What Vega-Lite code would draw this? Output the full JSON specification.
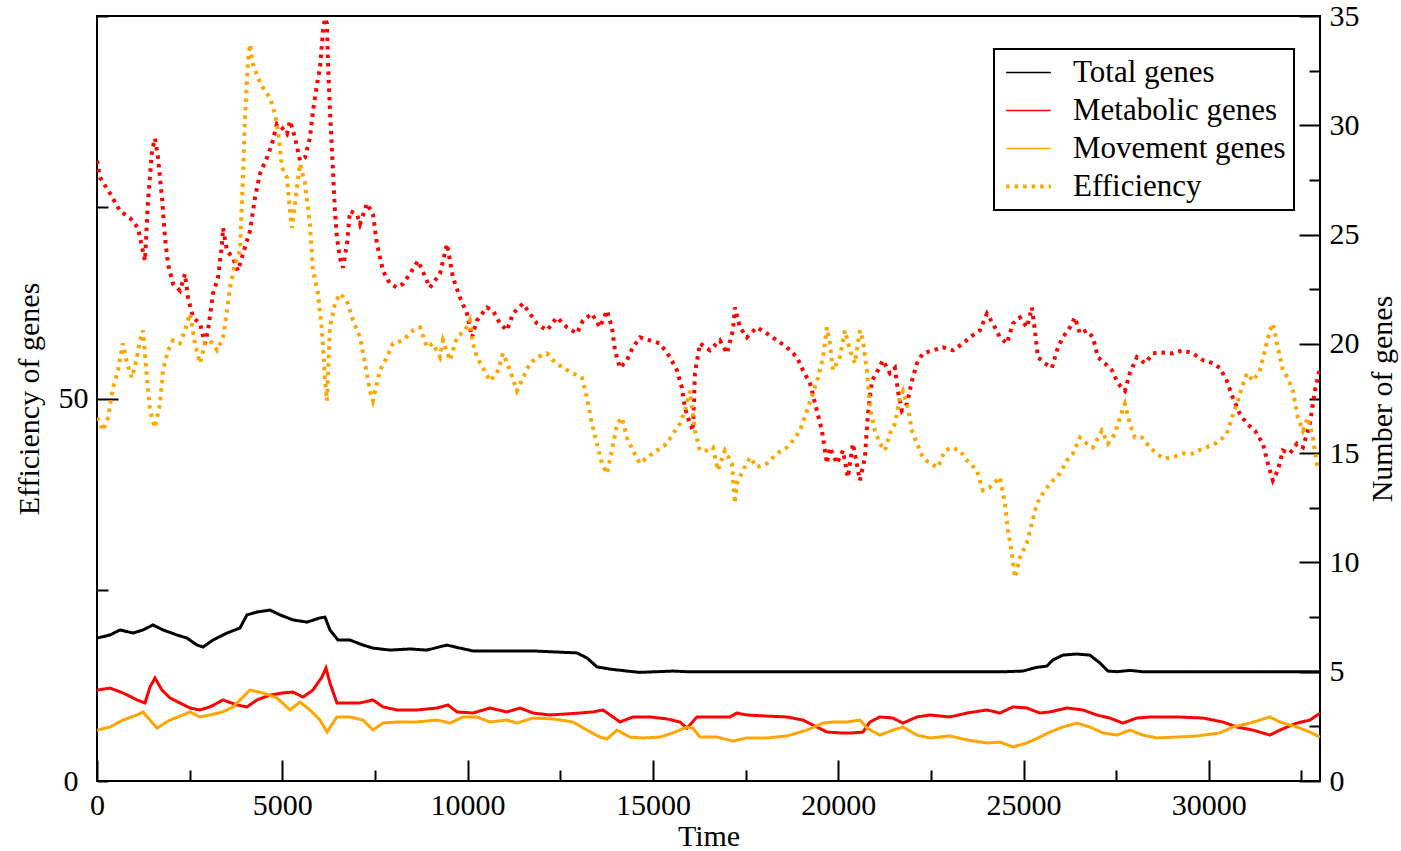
{
  "$schema": "https://vega.github.io/schema/vega-lite/v6.json",
  "width": 1223,
  "height": 765,
  "autosize": {"type": "none"},
  "padding": {"left": 97, "top": 16, "right": 81, "bottom": 70},
  "background": "white",
  "config": {
    "font": "Liberation Serif",
    "view": {"stroke": "black", "strokeWidth": 2},
    "axis": {
      "grid": false,
      "domain": false,
      "tickColor": "black",
      "tickWidth": 2,
      "labelFont": "Liberation Serif",
      "labelFontSize": 30,
      "labelColor": "black",
      "titleFont": "Liberation Serif",
      "titleFontSize": 30,
      "titleFontWeight": "normal",
      "titleColor": "black"
    }
  },
  "data": {
    "values": [
      {"s":"em","t":0,"v":81.1},{"s":"em","t":81,"v":78.9},{"s":"em","t":351,"v":76.8},{"s":"em","t":621,"v":74.5},{"s":"em","t":890,"v":73.6},{"s":"em","t":1106,"v":72.3},{"s":"em","t":1295,"v":68},{"s":"em","t":1376,"v":75.8},{"s":"em","t":1484,"v":82.4},{"s":"em","t":1565,"v":84},{"s":"em","t":1646,"v":81.5},{"s":"em","t":1754,"v":76.2},{"s":"em","t":1835,"v":71},{"s":"em","t":1916,"v":67.6},{"s":"em","t":2050,"v":65},{"s":"em","t":2239,"v":64.1},{"s":"em","t":2374,"v":66.3},{"s":"em","t":2455,"v":63.2},{"s":"em","t":2590,"v":60.6},{"s":"em","t":2779,"v":59.8},{"s":"em","t":2914,"v":57.2},{"s":"em","t":2995,"v":58.9},{"s":"em","t":3130,"v":63.7},{"s":"em","t":3265,"v":65.8},{"s":"em","t":3373,"v":70.2},{"s":"em","t":3400,"v":72.3},{"s":"em","t":3507,"v":69.3},{"s":"em","t":3669,"v":68.4},{"s":"em","t":3804,"v":66.7},{"s":"em","t":3939,"v":68.9},{"s":"em","t":4128,"v":71.9},{"s":"em","t":4263,"v":76.2},{"s":"em","t":4398,"v":79.4},{"s":"em","t":4587,"v":81.5},{"s":"em","t":4722,"v":83.3},{"s":"em","t":4856,"v":85.9},{"s":"em","t":4991,"v":85.4},{"s":"em","t":5126,"v":84.6},{"s":"em","t":5207,"v":86.3},{"s":"em","t":5342,"v":84.1},{"s":"em","t":5477,"v":81.1},{"s":"em","t":5612,"v":81.5},{"s":"em","t":5747,"v":84.1},{"s":"em","t":5828,"v":87.6},{"s":"em","t":5936,"v":91.1},{"s":"em","t":6017,"v":93.2},{"s":"em","t":6097,"v":98},{"s":"em","t":6151,"v":99.7},{"s":"em","t":6205,"v":99},{"s":"em","t":6232,"v":94},{"s":"em","t":6286,"v":87.6},{"s":"em","t":6340,"v":82.4},{"s":"em","t":6421,"v":74.5},{"s":"em","t":6475,"v":71},{"s":"em","t":6556,"v":68.4},{"s":"em","t":6637,"v":67.1},{"s":"em","t":6745,"v":70.2},{"s":"em","t":6826,"v":74.5},{"s":"em","t":7015,"v":74.1},{"s":"em","t":7096,"v":72.8},{"s":"em","t":7285,"v":75.5},{"s":"em","t":7446,"v":74.1},{"s":"em","t":7554,"v":70.2},{"s":"em","t":7716,"v":66.7},{"s":"em","t":7905,"v":65},{"s":"em","t":8094,"v":64.5},{"s":"em","t":8256,"v":65},{"s":"em","t":8445,"v":66.3},{"s":"em","t":8661,"v":68},{"s":"em","t":8984,"v":64.5},{"s":"em","t":9254,"v":66.3},{"s":"em","t":9443,"v":70.2},{"s":"em","t":9605,"v":65.8},{"s":"em","t":9794,"v":63.2},{"s":"em","t":9983,"v":61.1},{"s":"em","t":10118,"v":58},{"s":"em","t":10252,"v":60.2},{"s":"em","t":10522,"v":61.9},{"s":"em","t":10684,"v":61.5},{"s":"em","t":10873,"v":59.8},{"s":"em","t":11062,"v":58.9},{"s":"em","t":11224,"v":61.1},{"s":"em","t":11493,"v":62.4},{"s":"em","t":11682,"v":61.1},{"s":"em","t":11871,"v":59.8},{"s":"em","t":12141,"v":58.9},{"s":"em","t":12411,"v":60.6},{"s":"em","t":12681,"v":59.3},{"s":"em","t":12950,"v":58.5},{"s":"em","t":13112,"v":60.2},{"s":"em","t":13355,"v":61.1},{"s":"em","t":13571,"v":59.3},{"s":"em","t":13760,"v":61.5},{"s":"em","t":13895,"v":59.3},{"s":"em","t":13976,"v":56.3},{"s":"em","t":14111,"v":54},{"s":"em","t":14299,"v":55},{"s":"em","t":14461,"v":56.7},{"s":"em","t":14650,"v":58},{"s":"em","t":14920,"v":57.6},{"s":"em","t":15190,"v":57.2},{"s":"em","t":15460,"v":55.4},{"s":"em","t":15648,"v":53.7},{"s":"em","t":15783,"v":51.4},{"s":"em","t":15864,"v":48.8},{"s":"em","t":15999,"v":46.7},{"s":"em","t":16080,"v":45.8},{"s":"em","t":16134,"v":53.3},{"s":"em","t":16269,"v":57.2},{"s":"em","t":16539,"v":56.3},{"s":"em","t":16809,"v":57.6},{"s":"em","t":16997,"v":55.9},{"s":"em","t":17159,"v":58.9},{"s":"em","t":17213,"v":61.9},{"s":"em","t":17348,"v":59.3},{"s":"em","t":17537,"v":58},{"s":"em","t":17807,"v":59.3},{"s":"em","t":18077,"v":58.5},{"s":"em","t":18346,"v":57.6},{"s":"em","t":18616,"v":56.7},{"s":"em","t":18886,"v":55.4},{"s":"em","t":19048,"v":53.7},{"s":"em","t":19237,"v":52},{"s":"em","t":19426,"v":48.4},{"s":"em","t":19561,"v":45.8},{"s":"em","t":19695,"v":41.5},{"s":"em","t":19776,"v":43.6},{"s":"em","t":19965,"v":41.5},{"s":"em","t":20127,"v":43.2},{"s":"em","t":20262,"v":39.7},{"s":"em","t":20397,"v":44.1},{"s":"em","t":20586,"v":39.3},{"s":"em","t":20721,"v":42.3},{"s":"em","t":20802,"v":48},{"s":"em","t":20910,"v":52.3},{"s":"em","t":21071,"v":53.7},{"s":"em","t":21206,"v":55},{"s":"em","t":21395,"v":53.3},{"s":"em","t":21530,"v":54},{"s":"em","t":21611,"v":51},{"s":"em","t":21719,"v":48.4},{"s":"em","t":21854,"v":49.3},{"s":"em","t":21989,"v":52.3},{"s":"em","t":22124,"v":54.6},{"s":"em","t":22285,"v":55.9},{"s":"em","t":22555,"v":56.3},{"s":"em","t":22825,"v":56.7},{"s":"em","t":23095,"v":56.3},{"s":"em","t":23365,"v":57.2},{"s":"em","t":23554,"v":58},{"s":"em","t":23823,"v":58.9},{"s":"em","t":24012,"v":61.1},{"s":"em","t":24174,"v":59.8},{"s":"em","t":24363,"v":58},{"s":"em","t":24552,"v":57.2},{"s":"em","t":24714,"v":59.8},{"s":"em","t":24903,"v":60.6},{"s":"em","t":25091,"v":59.3},{"s":"em","t":25226,"v":61.9},{"s":"em","t":25307,"v":58.9},{"s":"em","t":25388,"v":55.4},{"s":"em","t":25577,"v":54.6},{"s":"em","t":25766,"v":54},{"s":"em","t":25928,"v":56.7},{"s":"em","t":26063,"v":58},{"s":"em","t":26252,"v":59.3},{"s":"em","t":26387,"v":60.6},{"s":"em","t":26521,"v":58.5},{"s":"em","t":26710,"v":58.9},{"s":"em","t":26872,"v":58},{"s":"em","t":27007,"v":55.4},{"s":"em","t":27196,"v":54.6},{"s":"em","t":27385,"v":53.7},{"s":"em","t":27547,"v":52},{"s":"em","t":27735,"v":51},{"s":"em","t":27870,"v":53.3},{"s":"em","t":28059,"v":55.4},{"s":"em","t":28275,"v":54.6},{"s":"em","t":28491,"v":55.9},{"s":"em","t":28761,"v":56},{"s":"em","t":29030,"v":55.9},{"s":"em","t":29300,"v":56.3},{"s":"em","t":29570,"v":55.9},{"s":"em","t":29840,"v":55},{"s":"em","t":30110,"v":54.6},{"s":"em","t":30299,"v":54},{"s":"em","t":30487,"v":52.3},{"s":"em","t":30649,"v":50.1},{"s":"em","t":30838,"v":48},{"s":"em","t":31027,"v":46.7},{"s":"em","t":31243,"v":45.8},{"s":"em","t":31459,"v":44.1},{"s":"em","t":31594,"v":41.5},{"s":"em","t":31728,"v":39.3},{"s":"em","t":31863,"v":40.6},{"s":"em","t":31998,"v":43.2},{"s":"em","t":32187,"v":42.8},{"s":"em","t":32376,"v":44.1},{"s":"em","t":32538,"v":43.6},{"s":"em","t":32727,"v":46.7},{"s":"em","t":32862,"v":51},{"s":"em","t":33000,"v":54},

      {"s":"ev","t":0,"v":47.5},{"s":"ev","t":162,"v":45.8},{"s":"ev","t":297,"v":47.5},{"s":"ev","t":432,"v":51.4},{"s":"ev","t":567,"v":53.7},{"s":"ev","t":701,"v":57.2},{"s":"ev","t":809,"v":54.6},{"s":"ev","t":944,"v":52.7},{"s":"ev","t":1079,"v":55.4},{"s":"ev","t":1160,"v":57.6},{"s":"ev","t":1241,"v":58.9},{"s":"ev","t":1349,"v":52.7},{"s":"ev","t":1430,"v":48.4},{"s":"ev","t":1565,"v":46.2},{"s":"ev","t":1700,"v":49.3},{"s":"ev","t":1781,"v":53.7},{"s":"ev","t":1916,"v":56.3},{"s":"ev","t":2050,"v":57.6},{"s":"ev","t":2239,"v":57.2},{"s":"ev","t":2374,"v":58.9},{"s":"ev","t":2509,"v":61.1},{"s":"ev","t":2644,"v":57.2},{"s":"ev","t":2779,"v":54.6},{"s":"ev","t":2914,"v":57.2},{"s":"ev","t":3049,"v":57.6},{"s":"ev","t":3238,"v":56.3},{"s":"ev","t":3400,"v":58},{"s":"ev","t":3507,"v":61.5},{"s":"ev","t":3588,"v":64.5},{"s":"ev","t":3723,"v":67.6},{"s":"ev","t":3858,"v":69.3},{"s":"ev","t":3939,"v":78.9},{"s":"ev","t":3993,"v":86.7},{"s":"ev","t":4074,"v":94.1},{"s":"ev","t":4128,"v":96.3},{"s":"ev","t":4209,"v":93.7},{"s":"ev","t":4344,"v":91.9},{"s":"ev","t":4479,"v":90.6},{"s":"ev","t":4668,"v":89.3},{"s":"ev","t":4802,"v":87.2},{"s":"ev","t":4883,"v":85},{"s":"ev","t":4991,"v":80.2},{"s":"ev","t":5126,"v":78.9},{"s":"ev","t":5207,"v":74.5},{"s":"ev","t":5261,"v":72.3},{"s":"ev","t":5342,"v":75.5},{"s":"ev","t":5477,"v":80.7},{"s":"ev","t":5612,"v":78.1},{"s":"ev","t":5747,"v":72.8},{"s":"ev","t":5828,"v":66.7},{"s":"ev","t":5963,"v":63.7},{"s":"ev","t":6071,"v":58.9},{"s":"ev","t":6151,"v":52.7},{"s":"ev","t":6205,"v":49.7},{"s":"ev","t":6286,"v":59.3},{"s":"ev","t":6421,"v":62.4},{"s":"ev","t":6556,"v":63.7},{"s":"ev","t":6745,"v":62.8},{"s":"ev","t":6907,"v":60.2},{"s":"ev","t":7096,"v":58},{"s":"ev","t":7231,"v":54.6},{"s":"ev","t":7366,"v":51},{"s":"ev","t":7446,"v":49.7},{"s":"ev","t":7635,"v":53.7},{"s":"ev","t":7824,"v":55.4},{"s":"ev","t":7986,"v":57.2},{"s":"ev","t":8256,"v":57.6},{"s":"ev","t":8526,"v":58.9},{"s":"ev","t":8715,"v":59.3},{"s":"ev","t":8903,"v":56.7},{"s":"ev","t":9065,"v":57.2},{"s":"ev","t":9254,"v":55.4},{"s":"ev","t":9335,"v":57.6},{"s":"ev","t":9524,"v":55},{"s":"ev","t":9713,"v":58},{"s":"ev","t":9929,"v":58.9},{"s":"ev","t":10063,"v":60.2},{"s":"ev","t":10144,"v":57.2},{"s":"ev","t":10252,"v":55.4},{"s":"ev","t":10414,"v":54},{"s":"ev","t":10603,"v":52.3},{"s":"ev","t":10792,"v":53.3},{"s":"ev","t":10954,"v":55.9},{"s":"ev","t":11143,"v":53.7},{"s":"ev","t":11332,"v":51},{"s":"ev","t":11493,"v":52.7},{"s":"ev","t":11682,"v":54.6},{"s":"ev","t":11871,"v":55.4},{"s":"ev","t":12141,"v":55.9},{"s":"ev","t":12303,"v":55},{"s":"ev","t":12573,"v":54},{"s":"ev","t":12842,"v":53.3},{"s":"ev","t":13085,"v":52.7},{"s":"ev","t":13220,"v":50.1},{"s":"ev","t":13355,"v":46.7},{"s":"ev","t":13490,"v":44.1},{"s":"ev","t":13625,"v":41.5},{"s":"ev","t":13760,"v":40.2},{"s":"ev","t":13895,"v":43.2},{"s":"ev","t":14030,"v":46.7},{"s":"ev","t":14164,"v":47.5},{"s":"ev","t":14299,"v":44.9},{"s":"ev","t":14461,"v":43.2},{"s":"ev","t":14650,"v":41.5},{"s":"ev","t":14839,"v":42.3},{"s":"ev","t":15109,"v":43.2},{"s":"ev","t":15379,"v":44.1},{"s":"ev","t":15540,"v":45.4},{"s":"ev","t":15729,"v":46.7},{"s":"ev","t":15864,"v":48.4},{"s":"ev","t":15999,"v":51},{"s":"ev","t":16134,"v":45.8},{"s":"ev","t":16269,"v":43.2},{"s":"ev","t":16458,"v":43.2},{"s":"ev","t":16620,"v":43.6},{"s":"ev","t":16755,"v":40.6},{"s":"ev","t":16943,"v":43.2},{"s":"ev","t":17132,"v":41.5},{"s":"ev","t":17213,"v":36.3},{"s":"ev","t":17267,"v":38.9},{"s":"ev","t":17429,"v":40.6},{"s":"ev","t":17618,"v":42.3},{"s":"ev","t":17807,"v":41},{"s":"ev","t":18077,"v":41.5},{"s":"ev","t":18346,"v":42.8},{"s":"ev","t":18616,"v":43.6},{"s":"ev","t":18778,"v":44.5},{"s":"ev","t":18967,"v":45.8},{"s":"ev","t":19156,"v":48.4},{"s":"ev","t":19318,"v":50.7},{"s":"ev","t":19453,"v":52.7},{"s":"ev","t":19588,"v":55.4},{"s":"ev","t":19695,"v":59.3},{"s":"ev","t":19776,"v":57.2},{"s":"ev","t":19857,"v":53.7},{"s":"ev","t":20046,"v":55.4},{"s":"ev","t":20181,"v":58.9},{"s":"ev","t":20316,"v":56.3},{"s":"ev","t":20451,"v":54.6},{"s":"ev","t":20586,"v":58.9},{"s":"ev","t":20667,"v":57.6},{"s":"ev","t":20775,"v":53.7},{"s":"ev","t":20856,"v":48.8},{"s":"ev","t":20991,"v":45.8},{"s":"ev","t":21125,"v":44.1},{"s":"ev","t":21260,"v":43.2},{"s":"ev","t":21395,"v":45.4},{"s":"ev","t":21530,"v":46.7},{"s":"ev","t":21665,"v":50.1},{"s":"ev","t":21746,"v":51},{"s":"ev","t":21881,"v":48.8},{"s":"ev","t":21989,"v":45.8},{"s":"ev","t":22124,"v":44.1},{"s":"ev","t":22285,"v":42.3},{"s":"ev","t":22474,"v":41.5},{"s":"ev","t":22690,"v":41},{"s":"ev","t":22879,"v":43.2},{"s":"ev","t":23068,"v":43.6},{"s":"ev","t":23284,"v":43.2},{"s":"ev","t":23473,"v":41.9},{"s":"ev","t":23742,"v":40.6},{"s":"ev","t":23904,"v":38},{"s":"ev","t":24093,"v":38.4},{"s":"ev","t":24363,"v":39.7},{"s":"ev","t":24498,"v":36.3},{"s":"ev","t":24579,"v":32.8},{"s":"ev","t":24687,"v":29.8},{"s":"ev","t":24768,"v":26.6},{"s":"ev","t":24903,"v":29.2},{"s":"ev","t":25091,"v":31.1},{"s":"ev","t":25226,"v":33.7},{"s":"ev","t":25361,"v":36.3},{"s":"ev","t":25523,"v":37.6},{"s":"ev","t":25712,"v":38.9},{"s":"ev","t":25982,"v":40.2},{"s":"ev","t":26171,"v":41.9},{"s":"ev","t":26332,"v":42.8},{"s":"ev","t":26521,"v":44.9},{"s":"ev","t":26710,"v":44.1},{"s":"ev","t":26872,"v":43.6},{"s":"ev","t":27115,"v":45.8},{"s":"ev","t":27277,"v":44.1},{"s":"ev","t":27466,"v":45.4},{"s":"ev","t":27601,"v":47.5},{"s":"ev","t":27735,"v":49.3},{"s":"ev","t":27870,"v":46.7},{"s":"ev","t":28005,"v":44.9},{"s":"ev","t":28194,"v":44.9},{"s":"ev","t":28410,"v":43.6},{"s":"ev","t":28599,"v":42.8},{"s":"ev","t":28761,"v":42.2},{"s":"ev","t":29030,"v":42.3},{"s":"ev","t":29300,"v":42.8},{"s":"ev","t":29570,"v":42.8},{"s":"ev","t":29840,"v":43.5},{"s":"ev","t":30110,"v":43.9},{"s":"ev","t":30299,"v":44.5},{"s":"ev","t":30487,"v":45.4},{"s":"ev","t":30622,"v":47.5},{"s":"ev","t":30757,"v":49.3},{"s":"ev","t":30892,"v":51.4},{"s":"ev","t":31027,"v":53.3},{"s":"ev","t":31189,"v":52.3},{"s":"ev","t":31378,"v":53.7},{"s":"ev","t":31513,"v":56.3},{"s":"ev","t":31648,"v":58.9},{"s":"ev","t":31728,"v":59.8},{"s":"ev","t":31863,"v":56.7},{"s":"ev","t":31998,"v":53.7},{"s":"ev","t":32133,"v":52.7},{"s":"ev","t":32268,"v":51},{"s":"ev","t":32403,"v":47.5},{"s":"ev","t":32538,"v":45.8},{"s":"ev","t":32673,"v":47.5},{"s":"ev","t":32808,"v":44.9},{"s":"ev","t":32943,"v":40.6},

      {"s":"tot","t":0,"v":6.54},{"s":"tot","t":351,"v":6.68},{"s":"tot","t":621,"v":6.91},{"s":"tot","t":971,"v":6.77},{"s":"tot","t":1241,"v":6.91},{"s":"tot","t":1511,"v":7.14},{"s":"tot","t":1781,"v":6.91},{"s":"tot","t":2158,"v":6.68},{"s":"tot","t":2428,"v":6.54},{"s":"tot","t":2698,"v":6.22},{"s":"tot","t":2860,"v":6.13},{"s":"tot","t":3130,"v":6.45},{"s":"tot","t":3507,"v":6.77},{"s":"tot","t":3858,"v":7.0},{"s":"tot","t":4047,"v":7.6},{"s":"tot","t":4317,"v":7.73},{"s":"tot","t":4668,"v":7.82},{"s":"tot","t":4937,"v":7.6},{"s":"tot","t":5288,"v":7.37},{"s":"tot","t":5666,"v":7.27},{"s":"tot","t":6017,"v":7.46},{"s":"tot","t":6151,"v":7.5},{"s":"tot","t":6286,"v":6.91},{"s":"tot","t":6502,"v":6.45},{"s":"tot","t":6826,"v":6.45},{"s":"tot","t":7177,"v":6.22},{"s":"tot","t":7446,"v":6.08},{"s":"tot","t":7905,"v":5.99},{"s":"tot","t":8445,"v":6.04},{"s":"tot","t":8903,"v":5.99},{"s":"tot","t":9443,"v":6.22},{"s":"tot","t":9794,"v":6.08},{"s":"tot","t":10144,"v":5.95},{"s":"tot","t":10873,"v":5.95},{"s":"tot","t":11763,"v":5.95},{"s":"tot","t":12411,"v":5.9},{"s":"tot","t":12950,"v":5.86},{"s":"tot","t":13220,"v":5.63},{"s":"tot","t":13490,"v":5.22},{"s":"tot","t":13841,"v":5.12},{"s":"tot","t":14299,"v":5.03},{"s":"tot","t":14650,"v":4.97},{"s":"tot","t":15540,"v":5.03},{"s":"tot","t":15918,"v":5.0},{"s":"tot","t":17000,"v":5.0},{"s":"tot","t":19000,"v":5.0},{"s":"tot","t":21000,"v":5.0},{"s":"tot","t":23000,"v":5.0},{"s":"tot","t":24500,"v":5.0},{"s":"tot","t":24983,"v":5.03},{"s":"tot","t":25361,"v":5.2},{"s":"tot","t":25631,"v":5.26},{"s":"tot","t":25793,"v":5.54},{"s":"tot","t":26063,"v":5.76},{"s":"tot","t":26440,"v":5.81},{"s":"tot","t":26791,"v":5.76},{"s":"tot","t":27061,"v":5.4},{"s":"tot","t":27277,"v":5.03},{"s":"tot","t":27520,"v":5.0},{"s":"tot","t":27870,"v":5.06},{"s":"tot","t":28221,"v":5.0},{"s":"tot","t":30000,"v":5.0},{"s":"tot","t":33000,"v":5.0},

      {"s":"met","t":0,"v":4.16},{"s":"met","t":351,"v":4.25},{"s":"met","t":701,"v":4.03},{"s":"met","t":1079,"v":3.71},{"s":"met","t":1295,"v":3.57},{"s":"met","t":1430,"v":4.3},{"s":"met","t":1565,"v":4.71},{"s":"met","t":1754,"v":4.16},{"s":"met","t":1970,"v":3.8},{"s":"met","t":2239,"v":3.57},{"s":"met","t":2509,"v":3.34},{"s":"met","t":2779,"v":3.25},{"s":"met","t":3049,"v":3.39},{"s":"met","t":3400,"v":3.71},{"s":"met","t":3777,"v":3.48},{"s":"met","t":4047,"v":3.39},{"s":"met","t":4317,"v":3.71},{"s":"met","t":4668,"v":3.93},{"s":"met","t":5018,"v":4.03},{"s":"met","t":5288,"v":4.07},{"s":"met","t":5558,"v":3.84},{"s":"met","t":5828,"v":4.16},{"s":"met","t":6071,"v":4.76},{"s":"met","t":6178,"v":5.17},{"s":"met","t":6286,"v":4.48},{"s":"met","t":6475,"v":3.57},{"s":"met","t":6745,"v":3.57},{"s":"met","t":7096,"v":3.57},{"s":"met","t":7446,"v":3.71},{"s":"met","t":7716,"v":3.39},{"s":"met","t":8094,"v":3.25},{"s":"met","t":8634,"v":3.25},{"s":"met","t":9173,"v":3.34},{"s":"met","t":9470,"v":3.48},{"s":"met","t":9713,"v":3.16},{"s":"met","t":10144,"v":3.11},{"s":"met","t":10603,"v":3.34},{"s":"met","t":11062,"v":3.16},{"s":"met","t":11413,"v":3.34},{"s":"met","t":11763,"v":3.11},{"s":"met","t":12222,"v":3.02},{"s":"met","t":12681,"v":3.07},{"s":"met","t":13031,"v":3.11},{"s":"met","t":13382,"v":3.16},{"s":"met","t":13652,"v":3.25},{"s":"met","t":13922,"v":2.93},{"s":"met","t":14111,"v":2.7},{"s":"met","t":14461,"v":2.93},{"s":"met","t":14920,"v":2.93},{"s":"met","t":15379,"v":2.84},{"s":"met","t":15729,"v":2.7},{"s":"met","t":15918,"v":2.42},{"s":"met","t":16188,"v":2.93},{"s":"met","t":16728,"v":2.93},{"s":"met","t":17078,"v":2.93},{"s":"met","t":17267,"v":3.11},{"s":"met","t":17537,"v":3.02},{"s":"met","t":18077,"v":2.97},{"s":"met","t":18616,"v":2.93},{"s":"met","t":19048,"v":2.79},{"s":"met","t":19426,"v":2.47},{"s":"met","t":19695,"v":2.24},{"s":"met","t":20046,"v":2.2},{"s":"met","t":20397,"v":2.2},{"s":"met","t":20667,"v":2.24},{"s":"met","t":20856,"v":2.7},{"s":"met","t":21125,"v":2.93},{"s":"met","t":21476,"v":2.88},{"s":"met","t":21746,"v":2.65},{"s":"met","t":22124,"v":2.93},{"s":"met","t":22474,"v":3.02},{"s":"met","t":23014,"v":2.93},{"s":"met","t":23473,"v":3.11},{"s":"met","t":24012,"v":3.25},{"s":"met","t":24363,"v":3.11},{"s":"met","t":24714,"v":3.39},{"s":"met","t":25091,"v":3.34},{"s":"met","t":25442,"v":3.11},{"s":"met","t":25712,"v":3.16},{"s":"met","t":26171,"v":3.34},{"s":"met","t":26602,"v":3.25},{"s":"met","t":26980,"v":3.02},{"s":"met","t":27331,"v":2.88},{"s":"met","t":27682,"v":2.65},{"s":"met","t":28059,"v":2.88},{"s":"met","t":28410,"v":2.93},{"s":"met","t":29138,"v":2.93},{"s":"met","t":29840,"v":2.88},{"s":"met","t":30379,"v":2.7},{"s":"met","t":30757,"v":2.47},{"s":"met","t":31189,"v":2.33},{"s":"met","t":31648,"v":2.1},{"s":"met","t":31917,"v":2.33},{"s":"met","t":32376,"v":2.65},{"s":"met","t":32727,"v":2.79},{"s":"met","t":33000,"v":3.1},

      {"s":"mov","t":0,"v":2.33},{"s":"mov","t":351,"v":2.47},{"s":"mov","t":701,"v":2.79},{"s":"mov","t":1079,"v":3.02},{"s":"mov","t":1241,"v":3.16},{"s":"mov","t":1430,"v":2.79},{"s":"mov","t":1619,"v":2.42},{"s":"mov","t":1970,"v":2.79},{"s":"mov","t":2320,"v":3.02},{"s":"mov","t":2509,"v":3.16},{"s":"mov","t":2779,"v":2.93},{"s":"mov","t":3049,"v":3.02},{"s":"mov","t":3400,"v":3.16},{"s":"mov","t":3669,"v":3.39},{"s":"mov","t":3939,"v":3.84},{"s":"mov","t":4128,"v":4.16},{"s":"mov","t":4479,"v":4.03},{"s":"mov","t":4856,"v":3.8},{"s":"mov","t":5207,"v":3.25},{"s":"mov","t":5477,"v":3.61},{"s":"mov","t":5747,"v":3.25},{"s":"mov","t":6017,"v":2.79},{"s":"mov","t":6205,"v":2.24},{"s":"mov","t":6475,"v":2.93},{"s":"mov","t":6826,"v":2.93},{"s":"mov","t":7177,"v":2.79},{"s":"mov","t":7446,"v":2.33},{"s":"mov","t":7716,"v":2.65},{"s":"mov","t":8094,"v":2.7},{"s":"mov","t":8634,"v":2.7},{"s":"mov","t":9173,"v":2.79},{"s":"mov","t":9524,"v":2.65},{"s":"mov","t":9875,"v":2.93},{"s":"mov","t":10252,"v":2.93},{"s":"mov","t":10603,"v":2.7},{"s":"mov","t":11062,"v":2.79},{"s":"mov","t":11332,"v":2.65},{"s":"mov","t":11763,"v":2.88},{"s":"mov","t":12303,"v":2.84},{"s":"mov","t":12842,"v":2.7},{"s":"mov","t":13220,"v":2.33},{"s":"mov","t":13571,"v":2.01},{"s":"mov","t":13760,"v":1.92},{"s":"mov","t":14030,"v":2.33},{"s":"mov","t":14381,"v":2.01},{"s":"mov","t":14731,"v":1.97},{"s":"mov","t":15190,"v":2.01},{"s":"mov","t":15540,"v":2.2},{"s":"mov","t":15918,"v":2.47},{"s":"mov","t":16080,"v":2.42},{"s":"mov","t":16269,"v":2.01},{"s":"mov","t":16728,"v":2.01},{"s":"mov","t":17159,"v":1.83},{"s":"mov","t":17537,"v":1.97},{"s":"mov","t":18077,"v":1.97},{"s":"mov","t":18616,"v":2.06},{"s":"mov","t":19156,"v":2.33},{"s":"mov","t":19588,"v":2.65},{"s":"mov","t":19857,"v":2.7},{"s":"mov","t":20235,"v":2.7},{"s":"mov","t":20586,"v":2.79},{"s":"mov","t":20775,"v":2.42},{"s":"mov","t":21125,"v":2.1},{"s":"mov","t":21476,"v":2.33},{"s":"mov","t":21746,"v":2.47},{"s":"mov","t":22124,"v":2.1},{"s":"mov","t":22474,"v":1.97},{"s":"mov","t":23014,"v":2.06},{"s":"mov","t":23473,"v":1.88},{"s":"mov","t":24012,"v":1.74},{"s":"mov","t":24363,"v":1.78},{"s":"mov","t":24714,"v":1.56},{"s":"mov","t":25091,"v":1.74},{"s":"mov","t":25442,"v":2.01},{"s":"mov","t":25712,"v":2.24},{"s":"mov","t":26063,"v":2.47},{"s":"mov","t":26440,"v":2.65},{"s":"mov","t":26791,"v":2.47},{"s":"mov","t":27142,"v":2.2},{"s":"mov","t":27520,"v":2.1},{"s":"mov","t":27870,"v":2.33},{"s":"mov","t":28221,"v":2.1},{"s":"mov","t":28599,"v":1.97},{"s":"mov","t":29138,"v":2.01},{"s":"mov","t":29678,"v":2.06},{"s":"mov","t":30299,"v":2.2},{"s":"mov","t":30649,"v":2.47},{"s":"mov","t":31108,"v":2.65},{"s":"mov","t":31648,"v":2.93},{"s":"mov","t":31917,"v":2.7},{"s":"mov","t":32376,"v":2.47},{"s":"mov","t":32727,"v":2.24},{"s":"mov","t":33000,"v":2.01}
    ]
  },
  "encoding": {
    "x": {
      "field": "t",
      "type": "quantitative",
      "scale": {"domain": [0, 33000], "nice": false, "zero": false},
      "axis": {
        "title": "Time",
        "orient": "bottom",
        "values": [0, 2500, 5000, 7500, 10000, 12500, 15000, 17500, 20000, 22500, 25000, 27500, 30000, 32500],
        "format": "d",
        "labelExpr": "datum.value % 5000 === 0 ? datum.label : ''",
        "tickSize": {"condition": {"test": "datum.value % 5000 === 0", "value": -21}, "value": -11},
        "labelPadding": 30,
        "labelFlush": false,
        "titlePadding": 1
      }
    }
  },
  "layer": [
    {
      "encoding": {
        "y": {
          "field": "v",
          "type": "quantitative",
          "scale": {"domain": [0, 100], "nice": false, "zero": false},
          "axis": {
            "title": "Efficiency of genes",
            "orient": "left",
            "values": [0, 25, 50, 75, 100],
            "labelExpr": "datum.value === 0 || datum.value === 50 ? datum.label : ''",
            "tickSize": {"condition": {"test": "datum.value === 50", "value": -21}, "value": -11},
            "labelPadding": 30,
            "labelFlush": false,
            "titlePadding": 14
          }
        }
      },
      "layer": [
        {
          "transform": [{"filter": "datum.s === 'em'"}],
          "mark": {"type": "line", "color": "red", "strokeWidth": 4, "strokeDash": [3.5, 5], "clip": true},
          "encoding": {}
        },
        {
          "transform": [{"filter": "datum.s === 'ev'"}],
          "mark": {"type": "line", "strokeWidth": 4, "clip": true},
          "encoding": {
            "color": {
              "field": "s",
              "type": "nominal",
              "scale": {"domain": ["tot", "met", "mov", "ev"], "range": ["black", "red", "orange", "orange"]},
              "legend": {
                "title": null,
                "orient": "none",
                "legendX": 897,
                "legendY": 33,
                "strokeColor": "black",
                "fillColor": "white",
                "padding": 8,
                "labelFont": "Liberation Serif",
                "labelFontSize": 31,
                "labelColor": "black",
                "labelLimit": 400,
                "labelOffset": 29,
                "symbolOffset": 11,
                "rowPadding": 6,
                "symbolType": "stroke",
                "symbolSize": 2000,
                "labelExpr": "datum.value === 'tot' ? 'Total genes' : datum.value === 'met' ? 'Metabolic genes' : datum.value === 'mov' ? 'Movement genes' : 'Efficiency'",
                "encode": {
                  "legend": {"update": {"strokeWidth": {"value": 2}}},
                  "symbols": {"update": {"strokeWidth": {"signal": "datum.value === 'ev' ? 4 : 1.5"}}}
                }
              }
            },
            "strokeDash": {
              "field": "s",
              "type": "nominal",
              "scale": {"domain": ["tot", "met", "mov", "ev"], "range": [[1, 0], [1, 0], [1, 0], [3.5, 5]]},
              "legend": {
                "title": null,
                "orient": "none",
                "legendX": 897,
                "legendY": 33,
                "strokeColor": "black",
                "fillColor": "white",
                "padding": 8,
                "labelFont": "Liberation Serif",
                "labelFontSize": 31,
                "labelColor": "black",
                "labelLimit": 400,
                "labelOffset": 29,
                "symbolOffset": 11,
                "rowPadding": 6,
                "symbolType": "stroke",
                "symbolSize": 2000,
                "labelExpr": "datum.value === 'tot' ? 'Total genes' : datum.value === 'met' ? 'Metabolic genes' : datum.value === 'mov' ? 'Movement genes' : 'Efficiency'",
                "encode": {
                  "legend": {"update": {"strokeWidth": {"value": 2}}},
                  "symbols": {"update": {"strokeWidth": {"signal": "datum.value === 'ev' ? 4 : 1.5"}}}
                }
              }
            }
          }
        }
      ]
    },
    {
      "transform": [{"filter": "datum.s === 'tot' || datum.s === 'met' || datum.s === 'mov'"}],
      "mark": {"type": "line", "strokeWidth": 3, "clip": true},
      "encoding": {
        "y": {
          "field": "v",
          "type": "quantitative",
          "scale": {"domain": [0, 35], "nice": false, "zero": false},
          "axis": {
            "title": "Number of genes",
            "orient": "right",
            "values": [0, 2.5, 5, 7.5, 10, 12.5, 15, 17.5, 20, 22.5, 25, 27.5, 30, 32.5, 35],
            "labelExpr": "datum.value % 5 === 0 ? datum.label : ''",
            "tickSize": {"condition": {"test": "datum.value % 5 === 0", "value": -21}, "value": -11},
            "labelPadding": 30,
            "labelFlush": false,
            "titleAngle": -90,
            "titlePadding": 38
          }
        },
        "color": {"field": "s", "type": "nominal"},
        "strokeDash": {"field": "s", "type": "nominal"}
      }
    }
  ],
  "resolve": {"scale": {"y": "independent"}}
}
